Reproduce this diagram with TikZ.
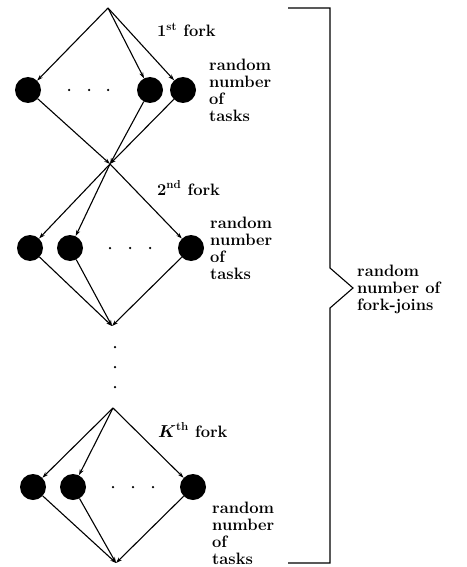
\documentclass[tikz,border=0pt]{standalone}
\usetikzlibrary{arrows.meta}
\begin{document}
\begin{tikzpicture}[x=1pt,y=-1pt,
  task/.style={circle,fill=black,minimum size=26pt,inner sep=0pt},
  flow/.style={line width=1.1pt,-{Stealth[length=6pt,width=4pt]}},
  plain/.style={line width=1.1pt},
  lbl/.style={font=\bfseries\fontsize{16.5}{17}\selectfont,align=left,inner sep=0pt},
  dot/.style={circle,fill=black,minimum size=2.5pt,inner sep=0pt}]
\useasboundingbox (0,0) rectangle (466,567);
% fork 1
\coordinate (t1) at (108,8);
\node[task] (a1) at (28,90) {};
\node[task] (a2) at (150,90) {};
\node[task] (a3) at (183,90) {};
\coordinate (j1) at (110,164);
\foreach \x [count=\i] in {69,89,108} \node[dot] (da\i) at (\x,90) {};
\draw[flow] (t1) -- (a1);
\draw[flow] (t1) -- (a2);
\draw[flow] (t1) -- (a3);
\draw[flow] (a1) -- (j1);
\draw[flow] (a2) -- (j1);
\draw[flow] (a3) -- (j1);
\node[lbl,anchor=base west] (l1) at (157,37) {1\textsuperscript{st} fork};
\node[lbl,anchor=north west] (r1) at (209,59) {random\\number\\of\\tasks};
% fork 2
\node[task] (b1) at (30,248) {};
\node[task] (b2) at (70,248) {};
\node[task] (b3) at (191,248) {};
\coordinate (j2) at (112,326);
\foreach \x [count=\i] in {110,130,150} \node[dot] (db\i) at (\x,248) {};
\draw[flow] (j1) -- (b1);
\draw[flow] (j1) -- (b2);
\draw[flow] (j1) -- (b3);
\draw[flow] (b1) -- (j2);
\draw[flow] (b2) -- (j2);
\draw[flow] (b3) -- (j2);
\node[lbl,anchor=base west] (l2) at (157,195) {2\textsuperscript{nd} fork};
\node[lbl,anchor=north west] (r2) at (210,217) {random\\number\\of\\tasks};
% vertical dots
\foreach \y [count=\i] in {347,367,387} \node[dot] (dv\i) at (115,\y) {};
% fork K
\coordinate (tk) at (113,408);
\node[task] (c1) at (33,487) {};
\node[task] (c2) at (73,487) {};
\node[task] (c3) at (193,487) {};
\coordinate (jk) at (116,563);
\foreach \x [count=\i] in {113,133,153} \node[dot] (dc\i) at (\x,487) {};
\draw[flow] (tk) -- (c1);
\draw[flow] (tk) -- (c2);
\draw[flow] (tk) -- (c3);
\draw[flow] (c1) -- (jk);
\draw[flow] (c2) -- (jk);
\draw[flow] (c3) -- (jk);
\node[lbl,anchor=base west] (lk) at (158,437) {{\boldmath$K$}\textsuperscript{th} fork};
\node[lbl,anchor=north west] (rk) at (212,502) {random\\number\\of\\tasks};
% brace
\coordinate (bt) at (288,8);
\coordinate (bb) at (288,563);
\coordinate (tip) at (353,288);
\draw[plain] (bt) -- (330,8) -- (330,268) -- (tip) -- (330,308) -- (330,563) -- (bb);
\node[lbl,anchor=north west] (rf) at (357,265) {random\\number of\\fork-joins};
\end{tikzpicture}
\end{document}
